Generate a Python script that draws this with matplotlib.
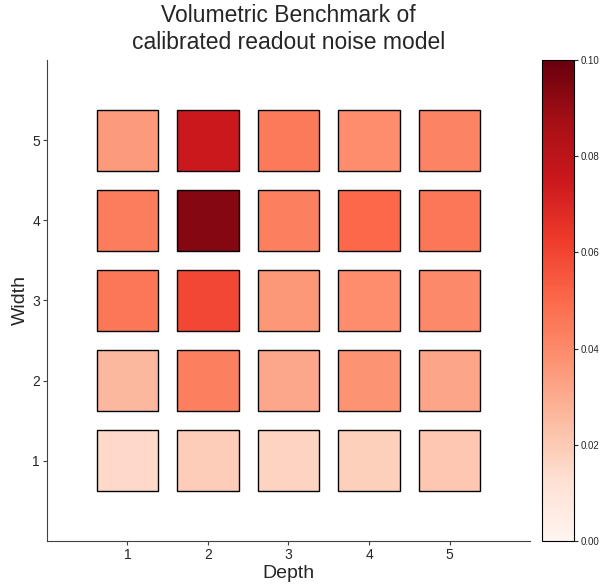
import matplotlib
matplotlib.use("Agg")
import matplotlib.pyplot as plt
from matplotlib.patches import Rectangle
import numpy as np

plt.rcParams['font.family'] = ['Liberation Sans', 'DejaVu Sans']
plt.rcParams['text.color'] = '#262626'
plt.rcParams['axes.labelcolor'] = '#262626'
plt.rcParams['xtick.color'] = '#262626'
plt.rcParams['ytick.color'] = '#262626'

depths = [1, 2, 3, 4, 5]
widths = [1, 2, 3, 4, 5]
# error values, rows = width 1..5, columns = depth 1..5
errors = [
    [0.015, 0.019, 0.017, 0.018, 0.021],
    [0.026, 0.043, 0.031, 0.037, 0.032],
    [0.046, 0.059, 0.036, 0.039, 0.040],
    [0.044, 0.094, 0.043, 0.050, 0.046],
    [0.035, 0.075, 0.045, 0.039, 0.042],
]

fig = plt.figure(figsize=(6.01, 5.84), dpi=100)
ax = fig.add_axes([0.078, 0.074, 0.804, 0.823])
cax = fig.add_axes([0.901, 0.074, 0.054, 0.823])

cmap = plt.get_cmap('Reds')
norm = matplotlib.colors.Normalize(vmin=0, vmax=0.1)
size = 0.76
for i, w in enumerate(widths):
    for j, d in enumerate(depths):
        ax.add_patch(Rectangle((d - size / 2, w - size / 2), size, size,
                               facecolor=cmap(norm(errors[i][j])),
                               edgecolor='black', linewidth=1.0))

ax.set_xlim(0, 6)
ax.set_ylim(0, 6)
ax.set_xticks(depths)
ax.set_yticks(widths)
ax.tick_params(labelsize=10, length=3, pad=2, color='#404040')
ax.spines['top'].set_visible(False)
ax.spines['right'].set_visible(False)
for s in ['left', 'bottom']:
    ax.spines[s].set_color('#404040')
ax.set_xlabel('Depth', fontsize=14, labelpad=2)
ax.set_ylabel('Width', fontsize=14, labelpad=2)
ax.set_title('Volumetric Benchmark of\ncalibrated readout noise model',
             fontsize=16.5, pad=8)

sm = matplotlib.cm.ScalarMappable(norm=norm, cmap=cmap)
cb = fig.colorbar(sm, cax=cax, ticks=[0, 0.02, 0.04, 0.06, 0.08, 0.10])
cb.ax.set_yticklabels(['0.00', '0.02', '0.04', '0.06', '0.08', '0.10'])
cb.ax.tick_params(labelsize=7, length=3, pad=2)

fig.savefig('out.png', dpi=100)
